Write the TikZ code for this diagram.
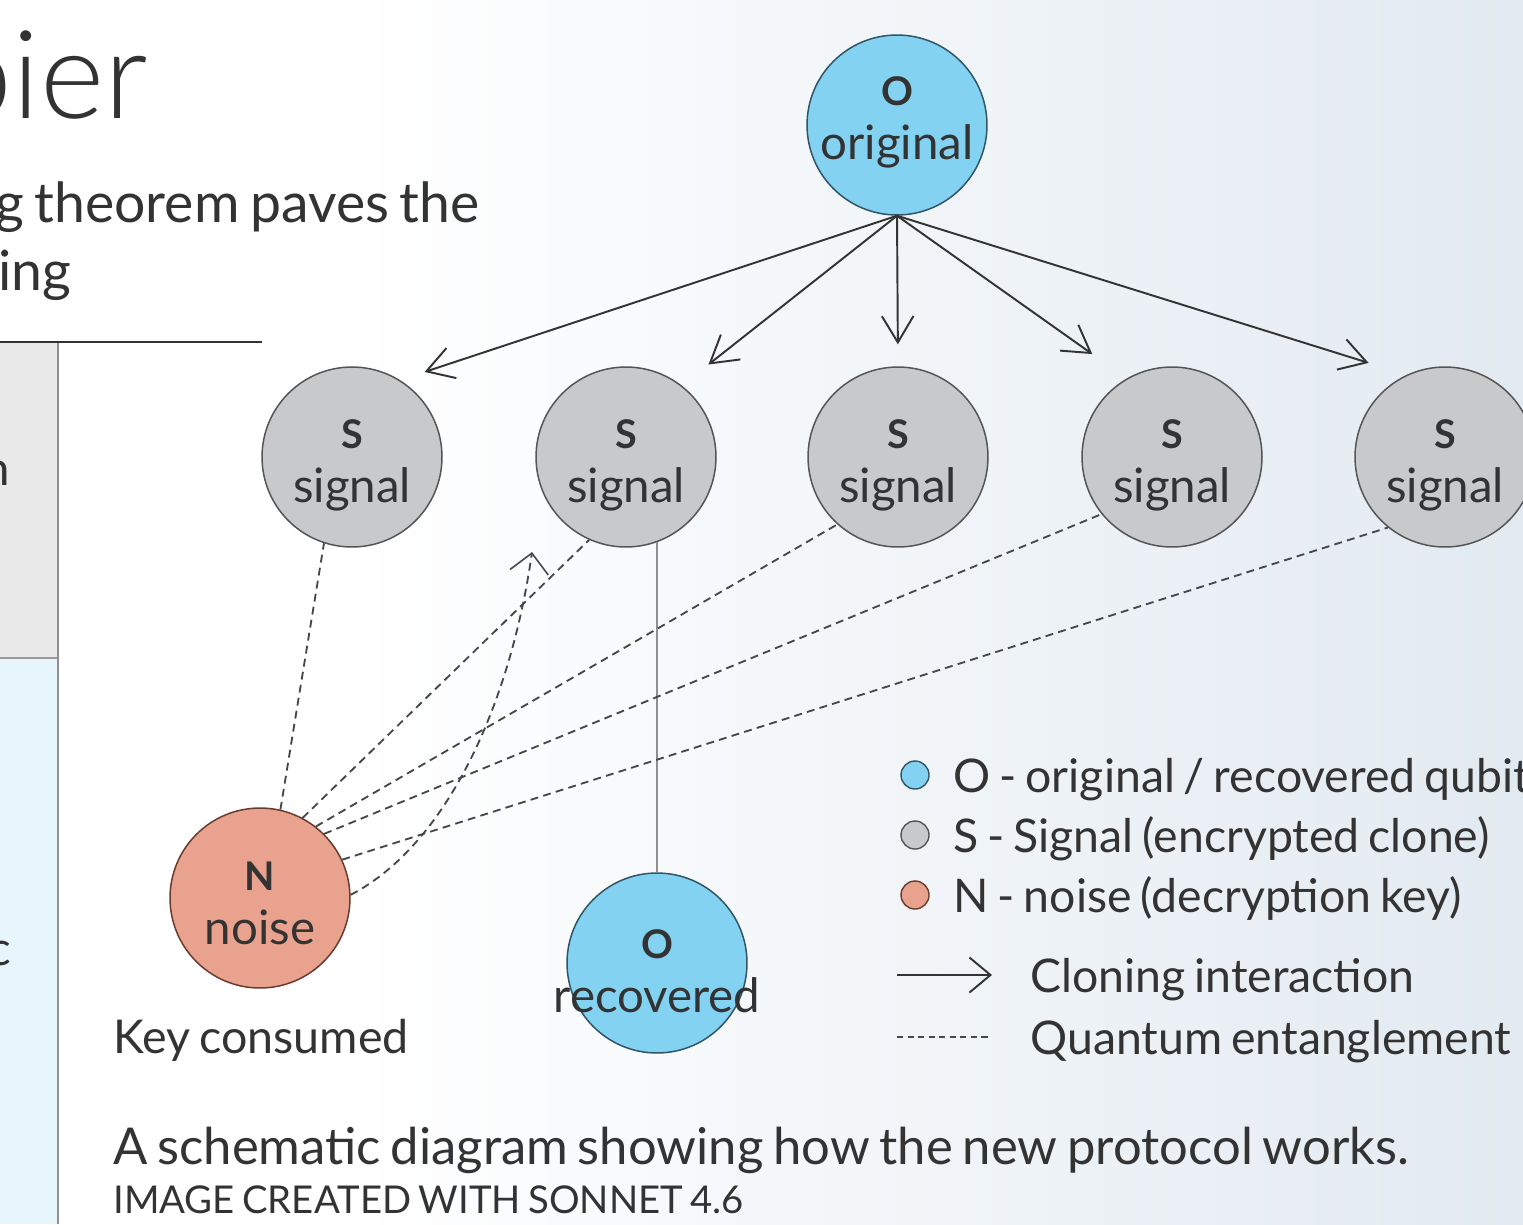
\documentclass[tikz,border=0pt]{standalone}
\usepackage{fontspec}
\setmainfont{Lato}[WordSpace=0.75]
\IfFontExistsTF{Lato Light}{\newfontfamily\titlefont{Lato Light}}{\newfontfamily\titlefont{Lato}}
\usetikzlibrary{arrows.meta,calc}

\definecolor{ink}{HTML}{333333}
\definecolor{qblue}{HTML}{84D2F2}
\definecolor{qblueline}{HTML}{2F5566}
\definecolor{qgray}{HTML}{C8C9CB}
\definecolor{qgrayline}{HTML}{555555}
\definecolor{qsalmon}{HTML}{E9A28D}
\definecolor{qsalmonline}{HTML}{6A3B30}
\definecolor{bgright}{HTML}{E2EAF1}
\definecolor{tgray}{HTML}{E9E9E9}
\definecolor{tblue}{HTML}{E7F5FC}

% two-line qubit label: bold letter above, word below; #1 = drop of the word baseline
\newcommand\qlabel[3]{\makebox[0pt]{\raisebox{-#1}[0pt][0pt]{\begin{tabular}[b]{@{}c@{}}{\fontsize{22.5}{26}\selectfont\bfseries #2}\\#3\end{tabular}}}}

\begin{document}
\begin{tikzpicture}[x=0.02cm,y=-0.02cm,
  font=\fontsize{27}{31}\selectfont, text=ink,
  qubit/.style={circle, minimum size=3.6cm, inner sep=0pt, line width=0.85pt},
  orig/.style={qubit, fill=qblue, draw=qblueline},
  sig/.style={qubit, fill=qgray, draw=qgrayline},
  noisy/.style={qubit, fill=qsalmon, draw=qsalmonline},
  dot/.style={circle, minimum size=0.56cm, inner sep=0pt, line width=0.8pt},
  clone/.style={draw=ink, line width=1.1pt, -{Straight Barb[length=15pt,width=18pt,line width=1.1pt]}},
  ent/.style={draw=ink!90, line width=1.05pt, dash pattern=on 4.5pt off 3pt},
  txt/.style={inner sep=0pt, anchor=base west},
  legendtext/.style={txt, font=\fontsize{26.4}{30}\selectfont}]

\useasboundingbox (0,0) rectangle (1523,1224);

% page background
\fill[white] (0,0) rectangle (1523,1224);
\shade[left color=white, right color=bgright] (350,0) rectangle (1523,1224);

% side table
\fill[tgray] (0,342) rectangle (58,658);
\fill[tblue] (0,658) rectangle (58,1224);
\draw[line width=1.4pt, ink!55] (58,342) -- (58,1224);
\draw[line width=1.2pt, ink!50] (0,658) -- (58,658);
\draw[line width=1.2pt, ink] (0,342) -- (262,342);

% heading text
\node[txt, anchor=base east, font=\titlefont\fontsize{70}{80}\selectfont] (ttl) at (148,118) {pier};
\node[txt, anchor=base east, font=\fontsize{31.5}{36}\selectfont] (sub1) at (480,222) {g theorem paves the};
\node[txt, anchor=base east, font=\fontsize{31.5}{36}\selectfont] (sub2) at (72,290) {ing};
\node[txt, anchor=base east] (pn) at (10,485) {n};
\node[txt, anchor=base east] (pc) at (12,965) {c};

% qubits
\node[orig] (O) at (897,125) {\qlabel{19.8pt}{O}{original}};
\node[sig] (S1) at (352,457) {\qlabel{26pt}{S}{signal}};
\node[sig] (S2) at (626,457) {\qlabel{26pt}{S}{signal}};
\node[sig] (S3) at (898,457) {\qlabel{26pt}{S}{signal}};
\node[sig] (S4) at (1172,457) {\qlabel{26pt}{S}{signal}};
\node[sig] (S5) at (1445,457) {\qlabel{26pt}{S}{signal}};
\node[noisy] (N) at (260,898) {\qlabel{26.6pt}{N}{noise}};
\node[orig] (R) at (657,963) {\qlabel{28.3pt}{O}{recovered}};

% cloning interactions
\draw[clone, shorten >=14.7pt] (O.south) -- (S1.58);
\draw[clone, shorten >=19.3pt] (O.south) -- (S2.52);
\draw[clone, shorten >=12.5pt] (O.south) -- (S3.north);
\draw[clone, shorten >=24pt] (O.south) -- (S4.120);
\draw[clone, shorten >=22.7pt] (O.south) -- (S5.115);

% recovery link
\draw[line width=1.1pt, ink!55] (S2.290) -- (S2.290 |- R.north);

% entanglement with the noise qubit
\draw[ent] (N.77) -- (S1.252);
\draw[ent] (N.62) -- (S2.246);
\draw[ent] (N.52) -- (S3.228);
\draw[ent] (N.45) -- (S4.219);
\draw[ent] (N.25) -- (S5.231);
\coordinate (ktip) at (532,552);
\draw[ent, -{Straight Barb[length=11pt,width=22pt,line width=0.9pt]}]
  (N.2) .. controls ($(N.2)+(98,-51)$) and ($(ktip)+(-21,148)$) .. (ktip);

\node[txt, font=\fontsize{26.5}{30}\selectfont] (kc) at (113,1053) {Key consumed};

% legend
\node[dot, fill=qblue, draw=qblueline] (lgO) at (915,775) {};
\node[dot, fill=qgray, draw=qgrayline] (lgS) at (915,835) {};
\node[dot, fill=qsalmon, draw=qsalmonline] (lgN) at (915,895) {};
\node[legendtext] (lgOt) at (953,792) {O - original / recovered qubit};
\node[legendtext] (lgSt) at (953,852) {S - Signal (encrypted clone)};
\node[legendtext] (lgNt) at (953,912) {N - noise (decryption key)};
\coordinate (la1) at (897,975);
\coordinate (la2) at (992,975);
\draw[clone, -{Straight Barb[length=12pt,width=20pt,line width=1.1pt]}] (la1) -- (la2);
\node[legendtext] (lgC) at (1030,992) {Cloning interaction};
\coordinate (ld1) at (897,1037);
\coordinate (ld2) at (990,1037);
\draw[ent, line width=0.9pt, dash pattern=on 3.5pt off 2.5pt] (ld1) -- (ld2);
\node[legendtext] (lgQ) at (1030,1054) {Quantum entanglement};

% caption
\node[txt, font=\fontsize{28.9}{33}\selectfont] (cap) at (113,1164) {A schematic diagram showing how the new protocol works.};
\node[txt, font=\fontsize{21.8}{25}\selectfont] (credit) at (113,1213) {IMAGE CREATED WITH SONNET 4.6};
\end{tikzpicture}
\end{document}
